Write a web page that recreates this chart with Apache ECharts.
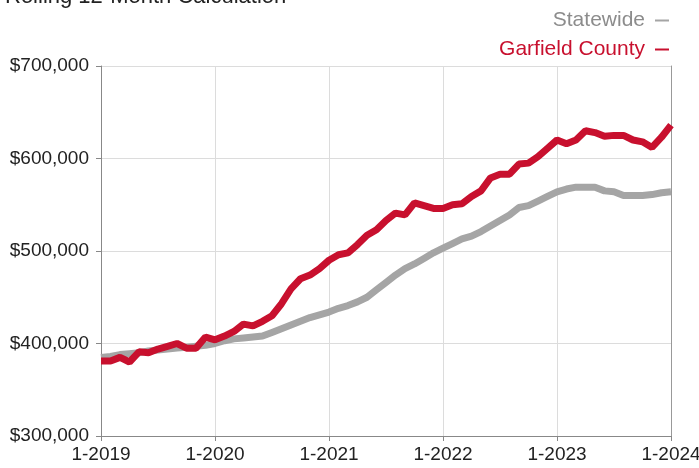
<!DOCTYPE html>
<html>
<head>
<meta charset="utf-8">
<script src="https://cdn.jsdelivr.net/npm/echarts@6/dist/echarts.min.js"></script>
<style>
  html, body { margin: 0; padding: 0; background: #fff; }
  #chart { width: 699px; height: 468px; }
</style>
</head>
<body>
<div id="chart"></div>
<script>
// monthly points, 1-2019 .. 1-2024
var years = [2019, 2020, 2021, 2022, 2023, 2024];
var months = [];
years.forEach(function (y) {
    for (var m = 1; m <= 12; m++) {
        if (y === 2024 && m > 1) break;
        months.push(m + '-' + y);
    }
});

// values in thousands of dollars
var statewide = [
    385, 386, 388, 389, 390, 392, 393, 394, 395, 396, 397, 398,
    400, 403, 405, 406, 407, 408, 412, 416, 420, 424, 428, 431,
    434, 438, 441, 445, 450, 458, 466, 474, 481, 486, 492, 498,
    503, 508, 513, 516, 521, 527, 533, 539, 547, 549, 554, 559,
    564, 567, 569, 569, 569, 565, 564, 560, 560, 560, 561, 563,
    564
];
var garfield = [
    381, 381, 385, 380, 391, 390, 394, 397, 400, 395, 395, 407,
    404, 408, 413, 421, 419, 424, 430, 443, 459, 470, 474, 481,
    490, 496, 498, 507, 517, 523, 533, 541, 539, 552, 549, 546,
    546, 550, 551, 559, 565, 579, 583, 583, 594, 595, 602, 611,
    620, 616, 620, 630, 628, 624, 625, 625, 620, 618, 612, 623,
    636
];

var font = '"Liberation Sans", Arial, sans-serif';
var red = '#C8102E';
var gray = '#A5A5A5';

function toDollars(arr) {
    return arr.map(function (v) { return v * 1000; });
}

var chart = echarts.init(document.getElementById('chart'));
chart.setOption({
    animation: false,
    title: {
        text: 'Rolling 12-Month Calculation',
        left: 0,
        top: -19,
        textStyle: { fontFamily: font, fontSize: 22, fontWeight: 'normal', color: '#222' }
    },
    legend: {
        orient: 'vertical',
        right: 25,
        top: 5,
        align: 'right',
        itemGap: 8,
        itemWidth: 14,
        itemHeight: 2,
        icon: 'rect',
        textStyle: { fontFamily: font, fontSize: 21, padding: [0, 5, 0, 0] },
        data: [
            { name: 'Statewide', textStyle: { color: '#8c8c8c' } },
            { name: 'Garfield County', textStyle: { color: red } }
        ]
    },
    grid: { left: 101, right: 28, top: 66, bottom: 32, outerBoundsMode: 'none' },
    xAxis: {
        type: 'category',
        data: months,
        boundaryGap: false,
        axisLine: { lineStyle: { color: '#888' } },
        axisTick: { interval: 11, length: 5, lineStyle: { color: '#888' } },
        axisLabel: { interval: 11, color: '#222', fontFamily: font, fontSize: 19, margin: 9 },
        splitLine: { show: true, interval: 11, lineStyle: { color: '#dcdcdc' } }
    },
    yAxis: [{
        type: 'value',
        min: 300000,
        max: 700000,
        interval: 100000,
        axisLine: { show: true, lineStyle: { color: '#888' } },
        axisTick: { show: true, length: 5, lineStyle: { color: '#888' } },
        axisLabel: {
            color: '#222', fontFamily: font, fontSize: 19, margin: 12,
            formatter: function (v) { return '$' + v.toLocaleString('en-US'); }
        },
        splitLine: { lineStyle: { color: '#dcdcdc' } }
    }, {
        type: 'value',
        position: 'right',
        min: 300000,
        max: 700000,
        axisLine: { show: true, lineStyle: { color: '#999' } },
        axisTick: { show: false },
        axisLabel: { show: false },
        splitLine: { show: false }
    }],
    series: [{
        name: 'Statewide',
        type: 'line',
        data: toDollars(statewide),
        symbol: 'none',
        color: gray,
        lineStyle: { width: 7, color: gray }
    }, {
        name: 'Garfield County',
        type: 'line',
        data: toDollars(garfield),
        symbol: 'none',
        color: red,
        lineStyle: { width: 7, color: red }
    }]
});
</script>
</body>
</html>
